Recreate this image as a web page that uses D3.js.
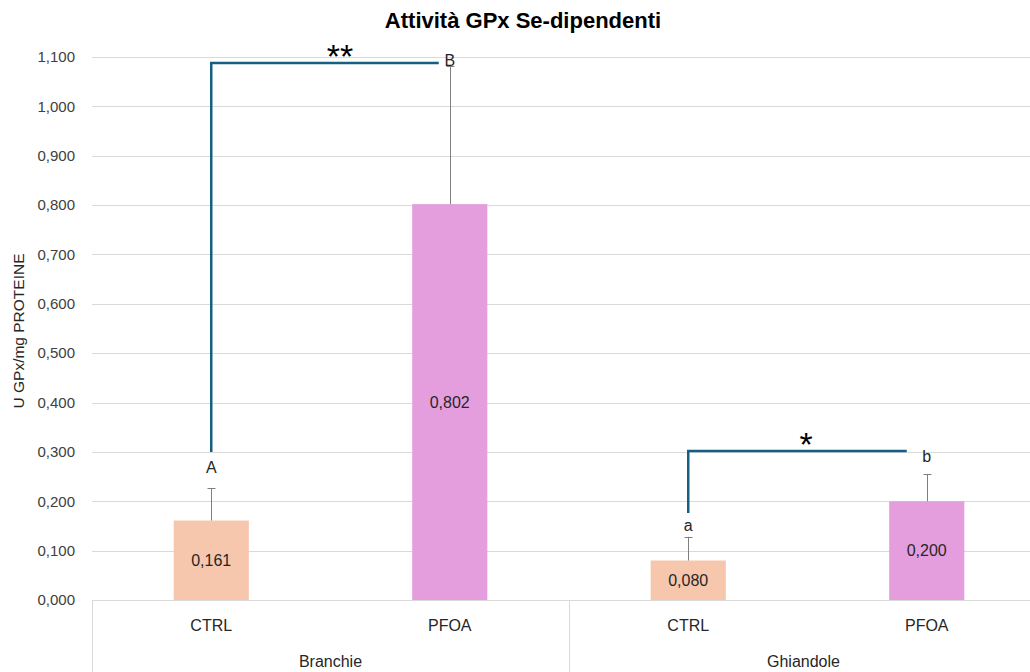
<!DOCTYPE html>
<html><head><meta charset="utf-8">
<script src="https://cdn.jsdelivr.net/npm/d3@7"></script>
<style>body{margin:0;background:#fff}svg{display:block;font-family:"Liberation Sans",Arial,sans-serif}</style>
</head><body><svg id="c" width="1030" height="672"></svg>
<script>
const groups = ["Branchie","Ghiandole"];
const categories = ["CTRL","PFOA","CTRL","PFOA"];
const categoryGroup = [0,0,1,1];
const values = [0.161,0.802,0.080,0.200];
const errors = [0.066,0.280,0.048,0.055];
const letters = ["A","B","a","b"];
const letterValues = [0.268,1.094,0.152,0.290];
const yTicks = [0,0.1,0.2,0.3,0.4,0.5,0.6,0.7,0.8,0.9,1.0,1.1];
const brackets = [
  {from:0,to:1,low:0.300,high:1.088,mark:"**"},
  {from:2,to:3,low:0.176,high:0.302,mark:"*"}
];
const colors = {CTRL:"#F6C6AD",PFOA:"#E49EDD"};

(function(){
const svg = d3.select("#c");
const mLeft = 92, mRight = 1046, mTop = 57, mBottom = 600;
const y = d3.scaleLinear().domain([0,1.1]).range([mBottom, mTop]);
const x = d3.scaleBand().domain(d3.range(categories.length)).range([mLeft,mRight]).padding(0);
const bw = x.step()*0.315;
const cx = i => x(i) + x.step()/2;
const fmt = v => d3.format(".3f")(v).replace(".", ",");
const txt = "#262626";

// gridlines
svg.append("g").selectAll("line").data(yTicks).join("line")
  .attr("x1",mLeft).attr("x2",1030).attr("y1",d=>Math.round(y(d))+0.5).attr("y2",d=>Math.round(y(d))+0.5)
  .attr("stroke","#d9d9d9").attr("stroke-width",1);
// y axis labels
const yAxis = d3.axisLeft(y).tickValues(yTicks).tickFormat(fmt).tickSize(0).tickPadding(17);
const ya = svg.append("g").attr("transform",`translate(${mLeft},0)`).call(yAxis);
ya.select(".domain").remove();
ya.selectAll("text").attr("font-size",15).attr("fill","#404040").attr("font-family","Liberation Sans, Arial, sans-serif");

// bars
svg.append("g").selectAll("rect").data(values).join("rect")
  .attr("x",(d,i)=>cx(i)-bw/2).attr("width",bw)
  .attr("y",d=>y(d)).attr("height",d=>y(0)-y(d))
  .attr("fill",(d,i)=>colors[categories[i]]);

// error bars
const eg = svg.append("g").attr("stroke","#7f7f7f").attr("stroke-width",1);
values.forEach((v,i)=>{
  const x0 = Math.round(cx(i))+0.5;
  eg.append("line").attr("x1",x0).attr("x2",x0).attr("y1",y(v)).attr("y2",y(v+errors[i]));
  eg.append("line").attr("x1",x0-4).attr("x2",x0+4).attr("y1",Math.round(y(v+errors[i]))+0.5).attr("y2",Math.round(y(v+errors[i]))+0.5);
});

// value labels
svg.append("g").selectAll("text").data(values).join("text")
  .attr("x",(d,i)=>cx(i)).attr("y",d=>Math.min(y(0)-12, y(d/2)))
  .attr("dy","0.35em").attr("text-anchor","middle").attr("font-size",16).attr("fill",txt)
  .text(fmt);

// letters
svg.append("g").selectAll("text").data(letters).join("text")
  .attr("x",(d,i)=>cx(i)).attr("y",(d,i)=>y(letterValues[i]))
  .attr("dy","0.35em").attr("text-anchor","middle").attr("font-size",16).attr("fill",txt)
  .text(d=>d);

// brackets
const bracketEnd = [11,20];
const markShift = [15,8.5];
brackets.forEach((b,k)=>{
  const x1 = cx(b.from), x2 = cx(b.to)-bracketEnd[k];
  svg.append("path").attr("d",`M${x1},${y(b.low)}V${y(b.high)}H${x2}`)
    .attr("fill","none").attr("stroke","#156082").attr("stroke-width",2.5);
  svg.append("text").attr("x",(x1+x2)/2+markShift[k]).attr("y",y(b.high)+5)
    .attr("text-anchor","middle").attr("font-size",34).attr("fill","#000").text(b.mark);
});

// bottom axis: category and group labels
svg.append("g").selectAll("text").data(categories).join("text")
  .attr("x",(d,i)=>cx(i)).attr("y",625).attr("dy","0.35em").attr("text-anchor","middle")
  .attr("font-size",16).attr("fill",txt).text(d=>d);
const groupBounds = groups.map((g,gi)=>{
  const idx = d3.range(categories.length).filter(i=>categoryGroup[i]===gi);
  return {g, x0:x(idx[0]), x1:x(idx[idx.length-1])+x.step()};
});
svg.append("g").selectAll("line").data([groupBounds[0].x0, ...groupBounds.map(d=>d.x1)]).join("line")
  .attr("x1",d=>Math.round(d)+0.5).attr("x2",d=>Math.round(d)+0.5).attr("y1",y(0)).attr("y2",672)
  .attr("stroke","#d9d9d9").attr("stroke-width",1);
svg.append("g").selectAll("text").data(groupBounds).join("text")
  .attr("x",d=>(d.x0+d.x1)/2 - (d.x1>1030? 4:0)).attr("y",661).attr("dy","0.35em").attr("text-anchor","middle")
  .attr("font-size",16).attr("fill",txt).text(d=>d.g);

// y title
svg.append("text").attr("transform","translate(19,331) rotate(-90)").attr("text-anchor","middle")
  .attr("dy","0.35em").attr("font-size",15.5).attr("fill",txt).text("U GPx/mg PROTEINE");
// title
svg.append("text").attr("x",523).attr("y",20).attr("dy","0.35em").attr("text-anchor","middle")
  .attr("font-size",22).attr("font-weight","bold").attr("fill","#000").text("Attività GPx Se-dipendenti");
})();
</script></body></html>
